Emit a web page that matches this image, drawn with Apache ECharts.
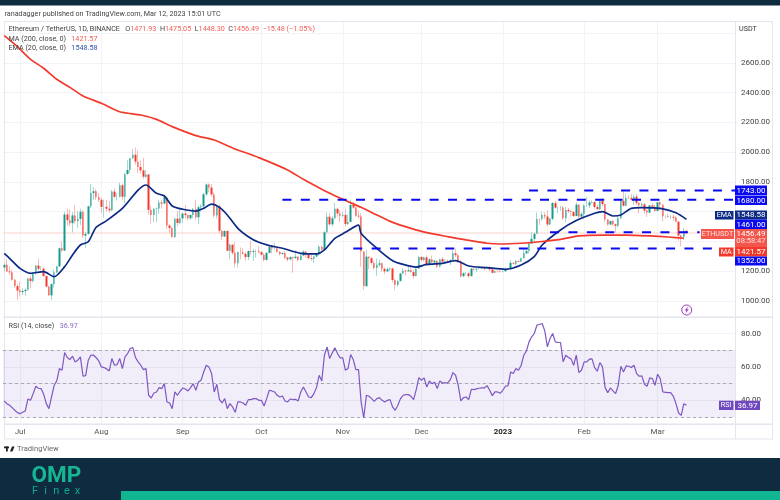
<!DOCTYPE html>
<html lang="en">
<head>
    <meta charset="UTF-8" />
    <title>ETHUSDT 1D</title>
    <script src="https://cdn.jsdelivr.net/npm/echarts@6/dist/echarts.min.js"></script>
    <style>
        html, body { margin: 0; background: #fff; }
        #chart { width: 780px; height: 500px; }
    </style>
</head>
<body>
<div id="chart"></div>
<script>
    // daily candles, one row per month (Jun 25 2022 .. Mar 12 2023)
    const opens = [
        1225,1243,1198,1193,1142,1100,
        1070,1060,1067,1075,1151,1134,1186,1238,1216,1217,1168,1097,1038,1113,1192,1233,1354,1339,1581,1543,1523,1575,1536,1552,1600,1440,1451,1636,1725,1737,1696,
        1680,1632,1632,1620,1609,1735,1700,1700,1777,1700,1852,1880,1958,1982,1936,1900,1877,1835,1850,1612,1578,1620,1622,1662,1655,1697,1507,1490,1430,1553,1524,
        1555,1587,1577,1556,1578,1618,1562,1630,1636,1717,1782,1762,1716,1574,1636,1472,1433,1470,1337,1378,1324,1253,1329,1328,1317,1295,1336,1330,1336,1336,
        1328,1311,1276,1323,1362,1352,1352,1331,1316,1322,1291,1280,1295,1288,1298,1275,1306,1332,1311,1288,1283,1299,1314,1364,1344,1461,1566,1515,1555,1619,1588,
        1572,1578,1517,1531,1645,1628,1572,1568,1333,1100,1298,1287,1256,1221,1243,1253,1216,1199,1213,1218,1141,1108,1135,1184,1204,1199,1206,1194,1168,1217,
        1296,1276,1293,1241,1280,1260,1271,1232,1281,1264,1266,1264,1274,1320,1308,1266,1167,1186,1186,1167,1217,1212,1217,1218,1221,1218,1226,1212,1189,1200,1199,
        1196,1200,1214,1214,1256,1251,1269,1264,1287,1320,1335,1387,1418,1451,1551,1550,1577,1567,1514,1552,1658,1627,1627,1628,1556,1612,1603,1597,1571,1647,1567,
        1585,1642,1642,1662,1665,1631,1617,1672,1651,1547,1514,1537,1515,1505,1556,1673,1640,1693,1692,1680,1701,1659,1643,1649,1607,1594,1642,1633,
        1605,1663,1647,1569,1569,1564,1565,1560,1533,1440,1430,1471.93
    ];
    const closes = [
        1243,1198,1193,1142,1100,1070,
        1060,1067,1075,1151,1134,1186,1238,1216,1217,1168,1097,1038,1113,1192,1233,1354,1339,1581,1543,1523,1575,1536,1552,1600,1440,1451,1636,1725,1737,1696,1680,
        1632,1632,1620,1609,1735,1700,1700,1777,1700,1852,1880,1958,1982,1936,1900,1877,1835,1850,1612,1578,1620,1622,1662,1655,1697,1507,1490,1430,1553,1524,1555,
        1587,1577,1556,1578,1618,1562,1630,1636,1717,1782,1762,1716,1574,1636,1472,1433,1470,1337,1378,1324,1253,1329,1328,1317,1295,1336,1330,1336,1336,1328,
        1311,1276,1323,1362,1352,1352,1331,1316,1322,1291,1280,1295,1288,1298,1275,1306,1332,1311,1288,1283,1299,1314,1364,1344,1461,1566,1515,1555,1619,1588,1572,
        1578,1517,1531,1645,1628,1572,1568,1333,1100,1298,1287,1256,1221,1243,1253,1216,1199,1213,1218,1141,1108,1135,1184,1204,1199,1206,1194,1168,1217,1296,
        1276,1293,1241,1280,1260,1271,1232,1281,1264,1266,1264,1274,1320,1308,1266,1167,1186,1186,1167,1217,1212,1217,1218,1221,1218,1226,1212,1189,1200,1199,1196,
        1200,1214,1214,1256,1251,1269,1264,1287,1320,1335,1387,1418,1451,1551,1550,1577,1567,1514,1552,1658,1627,1627,1628,1556,1612,1603,1597,1571,1647,1567,1585,
        1642,1642,1662,1665,1631,1617,1672,1651,1547,1514,1537,1515,1505,1556,1673,1640,1693,1692,1680,1701,1659,1643,1649,1607,1594,1642,1633,1605,
        1663,1647,1569,1569,1564,1565,1560,1533,1440,1430,1472,1456.49
    ];
    const highs = [
        1250,1282,1235,1210,1150,1115,
        1130,1085,1085,1155,1165,1195,1240,1285,1235,1225,1170,1100,1120,1210,1235,1358,1400,1600,1620,1615,1597,1645,1605,1620,1610,1465,1640,1785,1765,1750,1725,
        1695,1680,1680,1670,1745,1755,1725,1795,1790,1860,1945,1960,2020,2030,2012,1945,1960,1880,1850,1640,1625,1628,1680,1680,1715,1700,1515,1500,1560,1606,1620,
        1595,1645,1580,1580,1625,1680,1640,1650,1725,1790,1790,1785,1730,1645,1650,1475,1475,1475,1385,1380,1395,1330,1360,1355,1330,1340,1405,1350,1345,1370,
        1335,1320,1330,1365,1365,1390,1360,1335,1325,1335,1295,1300,1298,1340,1300,1315,1340,1338,1315,1312,1305,1318,1375,1370,1470,1595,1590,1570,1660,1625,1610,
        1600,1620,1580,1680,1665,1635,1605,1590,1335,1345,1300,1295,1270,1285,1280,1260,1225,1225,1225,1225,1150,1140,1190,1220,1205,1235,1225,1210,1232,1303,
        1300,1298,1306,1285,1305,1275,1272,1285,1295,1280,1280,1280,1345,1352,1315,1275,1192,1195,1195,1222,1220,1220,1230,1225,1222,1230,1235,1215,1205,1205,1210,
        1205,1225,1220,1275,1260,1275,1272,1292,1350,1355,1393,1465,1460,1595,1555,1600,1595,1610,1560,1665,1675,1635,1640,1640,1630,1625,1610,1605,1660,1650,1597,
        1650,1700,1675,1675,1670,1645,1680,1690,1655,1550,1540,1545,1520,1570,1680,1742,1720,1710,1720,1715,1720,1665,1665,1660,1610,1645,1655,1645,
        1665,1670,1650,1575,1585,1575,1580,1570,1535,1445,1490,1475.05
    ];
    const lows = [
        1200,1195,1175,1135,1090,1005,
        1030,1040,1035,1070,1085,1125,1175,1205,1205,1160,1090,1035,1005,1090,1190,1226,1330,1335,1505,1500,1460,1520,1490,1510,1425,1355,1445,1625,1680,1680,1665,
        1590,1560,1600,1595,1605,1690,1675,1695,1680,1655,1850,1860,1955,1915,1860,1855,1820,1825,1580,1520,1530,1530,1585,1620,1650,1485,1455,1425,1423,1505,1515,
        1525,1553,1540,1545,1555,1545,1515,1600,1630,1705,1730,1700,1560,1555,1455,1410,1430,1335,1280,1310,1225,1225,1280,1312,1270,1275,1310,1270,1290,1320,
        1305,1265,1272,1320,1320,1345,1322,1305,1310,1282,1265,1272,1190,1285,1265,1272,1300,1290,1280,1270,1255,1295,1305,1330,1335,1455,1505,1500,1550,1565,1530,
        1565,1500,1510,1530,1620,1565,1555,1230,1075,1095,1215,1245,1210,1170,1230,1195,1180,1195,1200,1125,1075,1095,1130,1180,1170,1195,1190,1150,1165,1217,
        1265,1265,1235,1240,1255,1245,1220,1225,1260,1262,1255,1240,1265,1295,1255,1155,1160,1175,1155,1165,1205,1195,1212,1215,1205,1215,1200,1185,1190,1190,1192,
        1192,1195,1208,1212,1245,1240,1262,1262,1285,1317,1320,1385,1395,1450,1510,1540,1550,1500,1510,1542,1620,1590,1605,1545,1530,1590,1570,1565,1570,1555,1565,
        1550,1630,1625,1655,1620,1610,1610,1635,1530,1505,1510,1505,1460,1495,1550,1635,1635,1685,1675,1645,1645,1590,1625,1585,1565,1590,1620,1600,
        1602,1610,1535,1555,1560,1550,1540,1530,1405,1368,1410,1448.30
    ];
    const rsi14 = [
        39.6,38,37,35.6,34,32.6,32,32.8,33.6,40.8,
        40,44,48.4,47.2,47,43.6,38,35,42,49,
        51.6,59,58,68.6,65.6,64.4,66.4,63,64,66,
        54.4,54.8,64,67,67,65.6,63.6,60,59.6,58.8,
        57.6,65,61,61.4,65,59,66,68,71,71.6,
        65.6,63,61,58.4,59,43,41.4,44.4,45,47.6,
        47,50,39,38.4,35,45,43,45.4,47.4,46.8,
        45.6,47.6,50,46,51,52,57,61,60,56,
        45,49.6,40.4,38.4,41,35,38,36,32.8,39,
        39,38.4,37,40.4,40.4,41,41,40,
        40,36.6,41,46,45.6,45,43,42,42.6,39.6,
        39,40.8,40.4,40.6,39.6,45,48,45,42,41.6,
        44,47.6,55,51.6,67,72,65,68.4,71.4,68,
        65.4,65.4,58,59,67.4,64.4,58.4,58.4,39,29.4,
        43,42.4,41,39.4,41,41.6,40,39,40,40.4,
        36,34,37,41,43,43.4,43.4,42.4,40.4,46.4,
        53.6,52,53.4,48,51.6,50,50.8,47,51.6,50.4,
        50.4,50.4,52.4,56.6,55,49,39.6,41.6,42,40.4,
        46.6,46.4,46.8,47.2,47.4,47.4,48.8,46,42.8,45,
        45,44.2,46,48.4,48.8,57,56,59,58,
        61,67,69.6,75,78,80,85,85.4,86,81.6,
        72,77,80,75,74.6,74.6,63,67,65.6,64.8,
        61,67,56.6,58,63,63,64.6,64.8,59.6,57.4,
        62.6,60,47.6,44.6,47.4,45.6,44,49,60.4,57,
        60.6,60.4,59.6,61,56,54.4,54.6,49.6,48.4,53.4,
        53,49,55.6,53,45,44.8,44.6,44.6,42.4,38,
        32.4,31,38,36.97
    ];

    // moving averages, read at the bends of each line (day number, price)
    const maDays = [0,5,10,15,20,25,30,36.5,44,51.7,58,64.4,73.3,79.6,87.3,97.4,107.6,114,121.6,129.2,135.6,141.9,148.2,154.6,161,168.6,176.2,183.8,189,196.5,204.2,211.8,219.4,228,237.3,246,252.5,259];
    const maValues = [2782,2708,2623,2563,2489,2435,2377,2328,2271,2249,2220,2171,2111,2081,2028,1963,1880,1817,1741,1683,1629,1578,1528,1488,1459,1432,1410,1388,1383,1388,1398,1414,1437,1443,1443,1437,1430,1421.57];
    const emaDays = [0,2.2,6,9.8,14.9,18.7,22.5,25.7,28.9,31.6,35.2,39,45.4,50.5,53.9,58,61.3,64.4,68.2,73.3,75.9,79,81.6,84.8,88.6,93,97.4,101.2,106.3,112.6,119,121.5,126,130.4,134.9,136.2,141.9,148.2,152,156.5,160.9,167.3,172.4,176.8,183.8,190.8,196.5,201.6,205.4,211.8,218.2,224.5,228.3,232.1,234.7,239.1,243,250,255.6,260.3];
    const emaValues = [1320,1287,1219,1186,1197,1163,1231,1309,1376,1398,1495,1540,1622,1745,1779,1723,1705,1638,1616,1604,1622,1651,1629,1578,1488,1432,1394,1372,1354,1320,1316,1343,1421,1461,1510,1454,1354,1271,1246,1228,1246,1253,1271,1235,1224,1213,1242,1298,1376,1477,1540,1589,1600,1571,1578,1622,1627,1622,1593,1548.58];

    // horizontal levels drawn on the chart: price, first day, last day
    const levelPrices = [1743, 1680, 1461, 1352];
    const levelFrom = [200.3, 105.8, 208, 132.9];
    const levelTo = [278.5, 277.7, 265, 270];

    const priceTicks = [1000, 1200, 1800, 2000, 2200, 2400, 2600];
    const rsiTicks = [40, 60, 80];
    const rsiBands = [70, 50, 30];
    const monthLabels = { '2022-07-01': 'Jul', '2022-08-01': 'Aug', '2022-09-01': 'Sep', '2022-10-01': 'Oct', '2022-11-01': 'Nov', '2022-12-01': 'Dec', '2023-01-01': '2023', '2023-02-01': 'Feb', '2023-03-01': 'Mar' };

    // days run on past the last candle, up to the price scale
    const dayCount = 279;
    const days = [];
    for (let i = 0; i < dayCount; i++) {
        days.push(new Date(Date.UTC(2022, 5, 25 + i)).toISOString().slice(0, 10));
    }

    const FONT = 'Roboto, sans-serif';
    const GRID_LINE = '#f1f3f8';
    const FRAME = '#e3e6ee';
    const RED = '#f23a2c';
    const TEAL = '#129a8a';
    const BLUE = '#0a0af0';
    const NAVY = '#0d2a85';
    const PURPLE = '#7e57c2';

    const candleBody = opens.map((o, i) => [o, closes[i], Math.min(o, closes[i]), Math.max(o, closes[i])]);
    const candleFull = opens.map((o, i) => [o, closes[i], lows[i], highs[i]]);

    const plot = { left: 3, width: 732 };

    const xAxisBase = {
        type: 'category', data: days, boundaryGap: true,
        axisLine: { show: false }, axisTick: { show: false }, axisLabel: { show: false }, splitLine: { show: false }
    };

    // boxes on the price scale
    const boxes = [
        { text: '1743.00', y: 185.5, h: 9.5, fill: BLUE },
        { text: '1680.00', y: 195.5, h: 9.5, fill: BLUE },
        { text: '1548.58', y: 210.5, h: 9, fill: NAVY, tag: 'EMA', tagX: 715 },
        { text: '1461.00', y: 219.5, h: 9.5, fill: BLUE }
    ];
    const boxesLow = [
        { text: '1421.57', y: 247, h: 9.5, fill: RED, tag: 'MA', tagX: 719 },
        { text: '1352.00', y: 256.5, h: 9, fill: BLUE }
    ];

    const graphic = [];
    const addRect = (x, y, w, h, fill, z) => graphic.push({ type: 'rect', silent: true, z: z || 1, shape: { x, y, width: w, height: h }, style: { fill } });
    const addText = (x, y, text, fill, font, align, z, rich) => graphic.push({ type: 'text', silent: true, z: z || 10, x, y, style: { text, fill, font: font || `8px ${FONT}`, textAlign: align || 'left', textVerticalAlign: 'middle', rich } });

    addRect(0, 0, 780, 5.5, '#0f2b40');
    addRect(0, 458, 780, 42, '#0f2b40');
    addRect(121, 491, 659, 9, '#10b591', 2);

    // chart frame and pane separators
    addRect(4, 21, 768.5, 1, FRAME, 0);
    addRect(4, 21, 1, 418, FRAME, 0);
    addRect(772, 21, 1, 418, FRAME, 0);
    addRect(4, 438.5, 769, 1, FRAME, 0);
    addRect(735, 21, 1, 418, FRAME, 0);
    addRect(4, 316.5, 768, 1.5, FRAME, 0);
    addRect(4, 423.5, 768, 1.5, FRAME, 0);

    addText(4.5, 14.5, 'ranadagger published on TradingView.com, Mar 12, 2023 15:01 UTC', '#444', `7.2px ${FONT}`);
    addText(739, 29, 'USDT', '#333', `7.2px ${FONT}`);

    const legendRich = { d: { fill: '#444', font: `7.2px ${FONT}` }, r: { fill: '#f0615a', font: `7.2px ${FONT}` }, b: { fill: '#3050b0', font: `7.2px ${FONT}` } };
    addText(8.5, 29, '{d|Ethereum / TetherUS, 1D, BINANCE   O}{r|1471.93}{d|  H}{r|1475.05}{d|  L}{r|1448.30}{d|  C}{r|1456.49}{r|  \u221215.48 (\u22121.05%)}', '#444', `7.2px ${FONT}`, 'left', 10, legendRich);
    addText(8.5, 39, '{d|MA (200, close, 0)}{r|   1421.57}', '#444', `7.2px ${FONT}`, 'left', 10, legendRich);
    addText(8.5, 48.5, '{d|EMA (20, close, 0)}{b|   1548.58}', '#444', `7.2px ${FONT}`, 'left', 10, legendRich);
    addText(8.5, 326, '{d|RSI (14, close)}{p|   36.97}', '#444', `7.2px ${FONT}`, 'left', 10, Object.assign({ p: { fill: '#8a68c8', font: `7.2px ${FONT}` } }, legendRich));

    boxes.concat(boxesLow).forEach(b => {
        addRect(735, b.y, 32, b.h, b.fill, 8);
        addText(751, b.y + b.h / 2 + 0.3, b.text, '#fff', `8px ${FONT}`, 'center');
        if (b.tag) {
            addRect(b.tagX, b.y + 0.5, 733.5 - b.tagX, b.h - 0.5, b.fill, 8);
            addText((b.tagX + 733.5) / 2, b.y + b.h / 2 + 0.3, b.tag, '#fff', `7.2px ${FONT}`, 'center');
        }
    });

    // last price box with countdown
    addRect(735, 229, 32, 18, '#f3564c', 8);
    addText(751, 234, '1456.49', '#fff', `8px ${FONT}`, 'center');
    addText(751, 241.5, '08:58:47', '#ffe3e0', `7.6px ${FONT}`, 'center');
    addRect(701, 229, 33, 10, '#f3564c', 8);
    addText(717.5, 234.2, 'ETHUSDT', '#ffe3e0', `7.2px ${FONT}`, 'center');

    // RSI tag on its scale
    addRect(719, 400.7, 14.5, 9.3, '#6f49bd', 8);
    addText(726.2, 405.6, 'RSI', '#fff', `7.2px ${FONT}`, 'center');
    addRect(735, 400.7, 25, 9.3, '#6f49bd', 8);
    addText(747.5, 405.6, '36.97', '#fff', `8px ${FONT}`, 'center');

    // lightning mark below the last candles
    graphic.push({ type: 'circle', silent: true, z: 9, shape: { cx: 686.7, cy: 310, r: 5 }, style: { fill: '#fff', stroke: '#9c3dc0', lineWidth: 1 } });
    graphic.push({ type: 'polygon', silent: true, z: 10, shape: { points: [[688, 306.5], [684.6, 310.5], [686.5, 310.5], [685.4, 313.5], [688.9, 309.4], [687, 309.4]] }, style: { fill: '#9c3dc0' } });

    // TradingView mark
    addRect(4, 446.5, 5, 1.8, '#222', 3);
    addRect(6, 446.5, 1.8, 5, '#222', 3);
    graphic.push({ type: 'polygon', silent: true, z: 3, shape: { points: [[10, 451.5], [12, 446.5], [14.5, 446.5], [12.5, 451.5]] }, style: { fill: '#222' } });
    addText(17, 449.3, 'TradingView', '#666', `7.6px ${FONT}`);

    // OMP Finex logo
    addText(31.5, 476.5, 'OMP', '#17b593', `bold 22.5px ${FONT}`);
    ['F', 'i', 'n', 'e', 'x'].forEach((ch, i) => addText(35 + i * 10.6, 491, ch, '#12a88c', `11px ${FONT}`, 'center'));

    const levelSeries = levelPrices.map((p, i) => ({
        type: 'line', xAxisIndex: 0, yAxisIndex: 0, z: 6, silent: true, symbol: 'none', clip: false,
        data: [[levelFrom[i], p], [levelTo[i], p]],
        lineStyle: { color: BLUE, width: 2, type: [9, 9.4] }
    }));

    const option = {
        animation: false,
        backgroundColor: '#fff',
        textStyle: { fontFamily: FONT },
        graphic: { elements: graphic },
        grid: [
            { left: plot.left, width: plot.width, top: 33, height: 268 },
            { left: plot.left, width: plot.width, top: 316.8, height: 100.2 },
            { left: plot.left, width: plot.width, top: 21, height: 403 }
        ],
        xAxis: [
            Object.assign({ gridIndex: 0 }, xAxisBase),
            Object.assign({ gridIndex: 1 }, xAxisBase),
            {
                gridIndex: 2, type: 'category', data: days, boundaryGap: true,
                axisLine: { show: false }, axisTick: { show: false }, splitLine: { show: false },
                axisLabel: {
                    show: true, margin: 4, fontSize: 8, color: '#555', fontFamily: FONT,
                    interval: (i, d) => d in monthLabels,
                    formatter: d => d === '2023-01-01' ? '{y|2023}' : (monthLabels[d] || ''),
                    rich: { y: { fontSize: 8, color: '#222', fontWeight: 'bold', fontFamily: FONT } }
                }
            }
        ],
        yAxis: [
            {
                gridIndex: 0, type: 'value', position: 'right', min: 1000, max: 2800, interval: 200,
                axisLine: { show: false }, axisTick: { show: false },
                splitLine: { lineStyle: { color: GRID_LINE, width: 1 } },
                axisLabel: {
                    margin: 6, fontSize: 8, color: '#444', fontFamily: FONT,
                    formatter: v => priceTicks.includes(v) ? v.toFixed(2) : ''
                }
            },
            {
                gridIndex: 1, type: 'value', position: 'right', min: 30, max: 90, interval: 10,
                axisLine: { show: false }, axisTick: { show: false },
                splitLine: { lineStyle: { color: GRID_LINE, width: 1 } },
                axisLabel: {
                    margin: 6, fontSize: 8, color: '#444', fontFamily: FONT,
                    formatter: v => rsiTicks.includes(v) ? v.toFixed(2) : ''
                }
            },
            { gridIndex: 2, type: 'value', min: 0, max: 1, show: false }
        ],
        series: [
            {
                // month gridlines across both panes
                type: 'line', xAxisIndex: 2, yAxisIndex: 2, z: 0, silent: true, symbol: 'none',
                data: days.map(() => null),
                markLine: {
                    silent: true, symbol: 'none', label: { show: false }, z: 0,
                    lineStyle: { color: GRID_LINE, width: 1, type: 'solid' },
                    data: Object.keys(monthLabels).map(d => ({ xAxis: d }))
                }
            },
            {
                // wicks
                name: 'wick', type: 'candlestick', xAxisIndex: 0, yAxisIndex: 0, z: 3, silent: true,
                barWidth: 1, data: candleFull,
                itemStyle: { color: '#a5d8d2', color0: '#f9b9b4', borderColor: '#a5d8d2', borderColor0: '#f9b9b4', borderWidth: 1 },
                markLine: {
                    silent: true, symbol: 'none', label: { show: false }, z: 1,
                    emphasis: { disabled: true },
                    lineStyle: { color: '#fde0de', width: 1.5, type: 'solid', opacity: 1 },
                    data: [{ yAxis: closes[closes.length - 1] }]
                }
            },
            {
                name: 'ETHUSDT', type: 'candlestick', xAxisIndex: 0, yAxisIndex: 0, z: 4, silent: true,
                barWidth: 2, data: candleBody,
                itemStyle: { color: TEAL, color0: RED, borderColor: TEAL, borderColor0: RED, borderWidth: 0 }
            },
            {
                name: 'EMA 20', type: 'line', xAxisIndex: 0, yAxisIndex: 0, z: 5, silent: true, symbol: 'none', smooth: 0.25,
                data: emaDays.map((d, i) => [d, emaValues[i]]),
                lineStyle: { color: NAVY, width: 1.7 }
            },
            {
                name: 'MA 200', type: 'line', xAxisIndex: 0, yAxisIndex: 0, z: 5, silent: true, symbol: 'none', smooth: 0.2,
                data: maDays.map((d, i) => [d, maValues[i]]),
                lineStyle: { color: RED, width: 1.7 }
            },
            ...levelSeries,
            {
                name: 'RSI', type: 'line', xAxisIndex: 1, yAxisIndex: 1, z: 5, silent: true, symbol: 'none', clip: false,
                data: rsi14,
                lineStyle: { color: PURPLE, width: 1.2 },
                markArea: {
                    silent: true, z: 1,
                    itemStyle: { color: 'rgba(126,87,194,0.1)' },
                    data: [[{ yAxis: rsiBands[0] }, { yAxis: rsiBands[2] }]]
                },
                markLine: {
                    silent: true, symbol: 'none', label: { show: false }, z: 2,
                    lineStyle: { color: '#a9a9b2', width: 1, type: [3, 3] },
                    data: rsiBands.map(v => ({ yAxis: v }))
                }
            }
        ]
    };

    const chart = echarts.init(document.getElementById('chart'), null, { renderer: 'canvas' });
    chart.setOption(option);
</script>
</body>
</html>
